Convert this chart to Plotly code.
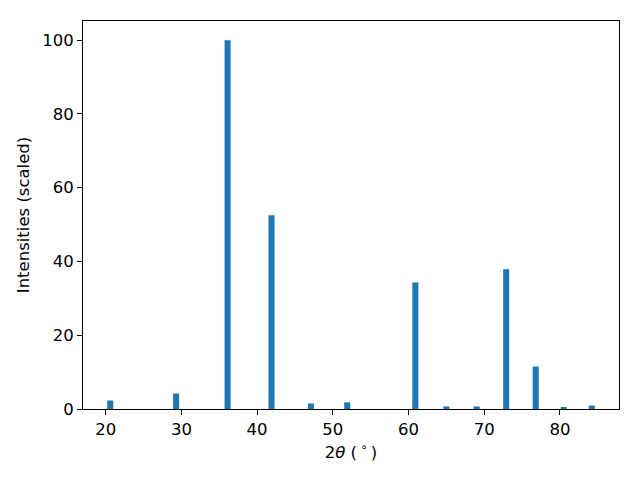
import plotly.graph_objects as go

two_theta = [20.6, 29.3, 36.1, 41.9, 47.1, 51.9, 60.9, 65.0, 69.0, 72.9, 76.8, 80.5, 84.2]
intensity = [2.3, 4.2, 100.0, 52.5, 1.5, 1.8, 34.3, 0.7, 0.7, 37.9, 11.5, 0.4, 0.95]
x_ticks = [20, 30, 40, 50, 60, 70, 80]
y_ticks = [0, 20, 40, 60, 80, 100]

fig = go.Figure(go.Bar(x=two_theta, y=intensity, width=0.8,
                       marker=dict(color="#1f77b4", line=dict(width=0))))

axis_common = dict(showline=True, linecolor="black", linewidth=1, mirror=True,
                   ticks="outside", ticklen=5, tickwidth=1, tickcolor="black",
                   showgrid=False, zeroline=False,
                   tickfont=dict(family="DejaVu Sans", size=16.5, color="black"))

fig.update_layout(
    width=640, height=480,
    margin=dict(l=75, r=29, t=13, b=79),
    plot_bgcolor="white", paper_bgcolor="white",
    font=dict(family="DejaVu Sans", size=16.5, color="black"),
    showlegend=False,
    xaxis=dict(range=[17.0, 87.8], tickvals=x_ticks,
               title=dict(text="2<i>θ</i> (\u2009<sup>∘</sup>\u2009)", standoff=8,
                          font=dict(family="DejaVu Sans", size=16.5)),
               **axis_common),
    yaxis=dict(range=[0, 105.2], tickvals=y_ticks,
               title=dict(text="Intensities (scaled)", standoff=8,
                          font=dict(family="DejaVu Sans", size=16.5)),
               **axis_common),
)

fig.write_html("out.html")
